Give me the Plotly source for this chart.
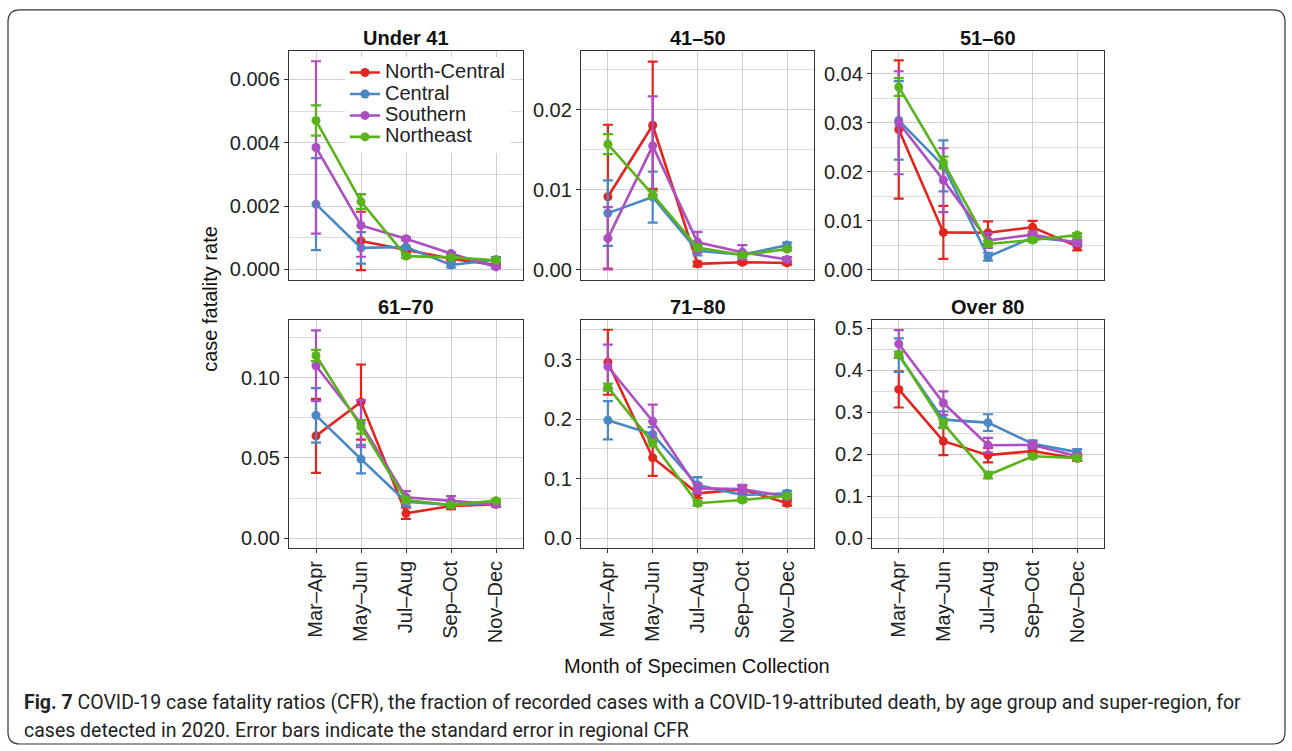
import plotly.graph_objects as go

W, H = 1292, 751

months = ["Mar–Apr", "May–Jun", "Jul–Aug", "Sep–Oct", "Nov–Dec"]
regions = ["North-Central", "Central", "Southern", "Northeast"]
region_colors = ["#E3251E", "#4A87C5", "#AD4EC2", "#58B41A"]
age_groups = ["Under 41", "41–50", "51–60", "61–70", "71–80", "Over 80"]

# CFR per age group: rows = regions (North-Central, Central, Southern, Northeast), cols = months
cfr_under41 = [
    [None, 0.0009, 0.00063, 0.00034, 0.00014],
    [0.00206, 0.00068, 0.00071, 0.00014, 0.00031],
    [0.00385, 0.00139, 0.00097, 0.0005, 0.00008],
    [0.0047, 0.00214, 0.00042, 0.00038, 0.00029],
]
se_under41 = [
    [None, 0.00092, 0.00008, 0.00004, 0.00003],
    [0.00145, 0.0005, 0.00025, 0.00008, 0.00008],
    [0.00272, 0.00099, 0.00005, 0.00004, 0.00005],
    [0.00048, 0.00023, 0.00006, 0.00005, 0.00006],
]
cfr_41_50 = [
    [0.00915, 0.01809, 0.00075, 0.00096, 0.00087],
    [0.0071, 0.0091, 0.0024, 0.0019, 0.0031],
    [0.00395, 0.01551, 0.00345, 0.0022, 0.0013],
    [0.01572, 0.0094, 0.0028, 0.00187, 0.0026],
]
se_41_50 = [
    [0.009, 0.00795, 0.0003, 0.0002, 0.0002],
    [0.0041, 0.0032, 0.0006, 0.0003, 0.0003],
    [0.0039, 0.0062, 0.0013, 0.0009, 0.0003],
    [0.00125, 0.0005, 0.0004, 0.0002, 0.0002],
]
cfr_51_60 = [
    [0.02863, 0.00765, 0.00758, 0.0087, 0.0048],
    [0.0305, 0.0212, 0.0027, 0.0066, 0.0057],
    [0.0300, 0.0183, 0.0060, 0.0072, 0.0055],
    [0.0373, 0.0219, 0.0053, 0.0061, 0.0071],
]
se_51_60 = [
    [0.0141, 0.0054, 0.0023, 0.0013, 0.0008],
    [0.008, 0.0052, 0.0008, 0.0005, 0.0005],
    [0.0105, 0.0065, 0.0015, 0.0006, 0.0006],
    [0.0018, 0.0012, 0.0006, 0.0004, 0.0004],
]
cfr_61_70 = [
    [0.0638, 0.0849, 0.0155, 0.0201, 0.0211],
    [0.0766, 0.0493, 0.0228, 0.0207, 0.0215],
    [0.1075, 0.0714, 0.0255, 0.0232, 0.0211],
    [0.1139, 0.0694, 0.0238, 0.0207, 0.0234],
]
se_61_70 = [
    [0.0231, 0.0234, 0.0035, 0.002, 0.0015],
    [0.017, 0.0089, 0.003, 0.0015, 0.0012],
    [0.0221, 0.0147, 0.0038, 0.003, 0.0015],
    [0.0035, 0.0042, 0.0015, 0.001, 0.001],
]
cfr_71_80 = [
    [0.2955, 0.135, 0.0753, 0.082, 0.0586],
    [0.198, 0.1745, 0.0892, 0.0725, 0.0753],
    [0.2883, 0.1963, 0.0836, 0.0825, 0.0697],
    [0.2537, 0.160, 0.0586, 0.0641, 0.071],
]
se_71_80 = [
    [0.0546, 0.0304, 0.008, 0.006, 0.004],
    [0.0321, 0.012, 0.0135, 0.005, 0.004],
    [0.0368, 0.0279, 0.008, 0.007, 0.004],
    [0.006, 0.006, 0.004, 0.003, 0.003],
]
cfr_over80 = [
    [0.3544, 0.231, 0.1978, 0.2075, 0.19],
    [0.436, 0.2824, 0.2753, 0.2250, 0.2050],
    [0.4628, 0.322, 0.2215, 0.2220, 0.1950],
    [0.4375, 0.273, 0.1503, 0.1950, 0.1910],
]
se_over80 = [
    [0.043, 0.033, 0.017, 0.008, 0.006],
    [0.04, 0.02, 0.02, 0.008, 0.007],
    [0.033, 0.028, 0.0175, 0.008, 0.006],
    [0.007, 0.01, 0.008, 0.005, 0.005],
]

panel_values = [cfr_under41, cfr_41_50, cfr_51_60, cfr_61_70, cfr_71_80, cfr_over80]
panel_se = [se_under41, se_41_50, se_51_60, se_61_70, se_71_80, se_over80]

# axis settings per panel
y_ranges = [[-0.00033, 0.0069], [-0.00125, 0.0274], [-0.00203, 0.04467],
            [-0.006, 0.1362], [-0.0162, 0.3669], [-0.023, 0.5205]]
y_dticks = [0.002, 0.01, 0.01, 0.05, 0.1, 0.1]
y_formats = [".3f", ".2f", ".2f", ".2f", ".1f", ".1f"]

FONT = "Liberation Sans, Arial, Helvetica, sans-serif"
col_px = [(289, 523), (581, 814), (872, 1104)]
row_px = [(49, 279), (319, 548)]

fig = go.Figure()
layout_axes = {}
annotations = []

for p in range(6):
    r, c = divmod(p, 3)
    idx = p + 1
    xa = "x" if idx == 1 else f"x{idx}"
    ya = "y" if idx == 1 else f"y{idx}"
    for k, reg in enumerate(regions):
        vals = panel_values[p][k]
        ses = panel_se[p][k]
        fig.add_trace(go.Scatter(
            x=months, y=vals, xaxis=xa, yaxis=ya,
            mode="lines+markers",
            name=f'<span style="font-size:20px">{reg}</span>',
            legendgroup=reg, showlegend=(p == 0),
            line=dict(color=region_colors[k], width=2.6),
            marker=dict(color=region_colors[k], size=9),
            error_y=dict(type="data", array=[s if s is not None else 0 for s in ses],
                         symmetric=True, color=region_colors[k], thickness=2.2, width=5),
            connectgaps=False,
        ))
    x0, x1 = col_px[c]
    y0, y1 = row_px[r]
    xkey = "xaxis" if idx == 1 else f"xaxis{idx}"
    ykey = "yaxis" if idx == 1 else f"yaxis{idx}"
    layout_axes[xkey] = dict(
        domain=[x0 / W, x1 / W], anchor=ya, type="category",
        categoryorder="array", categoryarray=months,
        range=[-0.6, 4.6], showgrid=True, gridcolor="#cfcfcf", gridwidth=1.2,
        showline=True, linecolor="#333333", linewidth=1.3, mirror=True,
        showticklabels=(r == 1), ticks="outside" if r == 1 else "",
        ticklen=4, tickcolor="#333333", tickangle=-90,
        tickfont=dict(family=FONT, size=20, color="#222222"), zeroline=False,
    )
    layout_axes[ykey] = dict(
        domain=[1 - y1 / H, 1 - y0 / H], anchor=xa,
        range=y_ranges[p], tick0=0, dtick=y_dticks[p], tickformat=y_formats[p],
        showgrid=True, gridcolor="#cfcfcf", gridwidth=1.2,
        minor=dict(dtick=y_dticks[p] / 2, tick0=0, showgrid=True,
                   gridcolor="#dcdcdc", gridwidth=0.8),
        showline=True, linecolor="#333333", linewidth=1.3, mirror=True,
        ticks="outside", ticklen=4, tickcolor="#333333",
        tickfont=dict(family=FONT, size=20, color="#222222"), zeroline=False,
    )
    annotations.append(dict(
        text=f"<b>{age_groups[p]}</b>", xref="paper", yref="paper",
        x=(x0 + x1) / 2 / W, y=1 - (36 if r == 0 else 306) / H,
        xanchor="center", yanchor="middle", showarrow=False,
        font=dict(family=FONT, size=20, color="#111111"),
    ))

annotations.append(dict(
    text="case fatality rate", xref="paper", yref="paper",
    x=210 / W, y=1 - 298 / H, textangle=-90, showarrow=False,
    xanchor="center", yanchor="middle",
    font=dict(family=FONT, size=20, color="#111111"),
))
annotations.append(dict(
    text="Month of Specimen Collection", xref="paper", yref="paper",
    x=697 / W, y=1 - 667 / H, showarrow=False,
    xanchor="center", yanchor="middle",
    font=dict(family=FONT, size=20, color="#111111"),
))

CAP_FONT = "Roboto, Liberation Sans, sans-serif"
caption_lines = [
    "<b>Fig. 7</b> COVID-19 case fatality ratios (CFR), the fraction of recorded cases with a "
    "COVID-19-attributed death, by age group and super-region, for",
    "cases detected in 2020. Error bars indicate the standard error in regional CFR",
]
for i, line in enumerate(caption_lines):
    annotations.append(dict(
        text=line, xref="paper", yref="paper",
        x=22 / W, y=1 - (703 + 28 * i) / H, showarrow=False,
        xanchor="left", yanchor="middle", align="left",
        font=dict(family=CAP_FONT, size=19.5, color="#222222"),
    ))

# outer rounded frame
bx0, by0, bx1, by1, rr = 8, 8, 1285, 745, 12
def px(x): return x / W
def py(y): return 1 - y / H
frame = (f"M {px(bx0 + rr)},{py(by0)} L {px(bx1 - rr)},{py(by0)} "
         f"Q {px(bx1)},{py(by0)} {px(bx1)},{py(by0 + rr)} "
         f"L {px(bx1)},{py(by1 - rr)} Q {px(bx1)},{py(by1)} {px(bx1 - rr)},{py(by1)} "
         f"L {px(bx0 + rr)},{py(by1)} Q {px(bx0)},{py(by1)} {px(bx0)},{py(by1 - rr)} "
         f"L {px(bx0)},{py(by0 + rr)} Q {px(bx0)},{py(by0)} {px(bx0 + rr)},{py(by0)} Z")

fig.update_layout(
    width=W, height=H, margin=dict(l=0, r=0, t=0, b=0),
    paper_bgcolor="white", plot_bgcolor="white",
    font=dict(family=FONT, color="#222222"),
    annotations=annotations,
    shapes=[dict(type="path", path=frame, xref="paper", yref="paper",
                 line=dict(color="#333333", width=1.2), layer="below")],
    legend=dict(x=345 / W, y=1 - 55 / H, xanchor="left", yanchor="top",
                bgcolor="white", borderwidth=0, itemwidth=30, tracegroupgap=0,
                font=dict(family=FONT, size=14.2, color="#222222")),
    showlegend=True,
    **layout_axes,
)

fig.write_html("out.html")
